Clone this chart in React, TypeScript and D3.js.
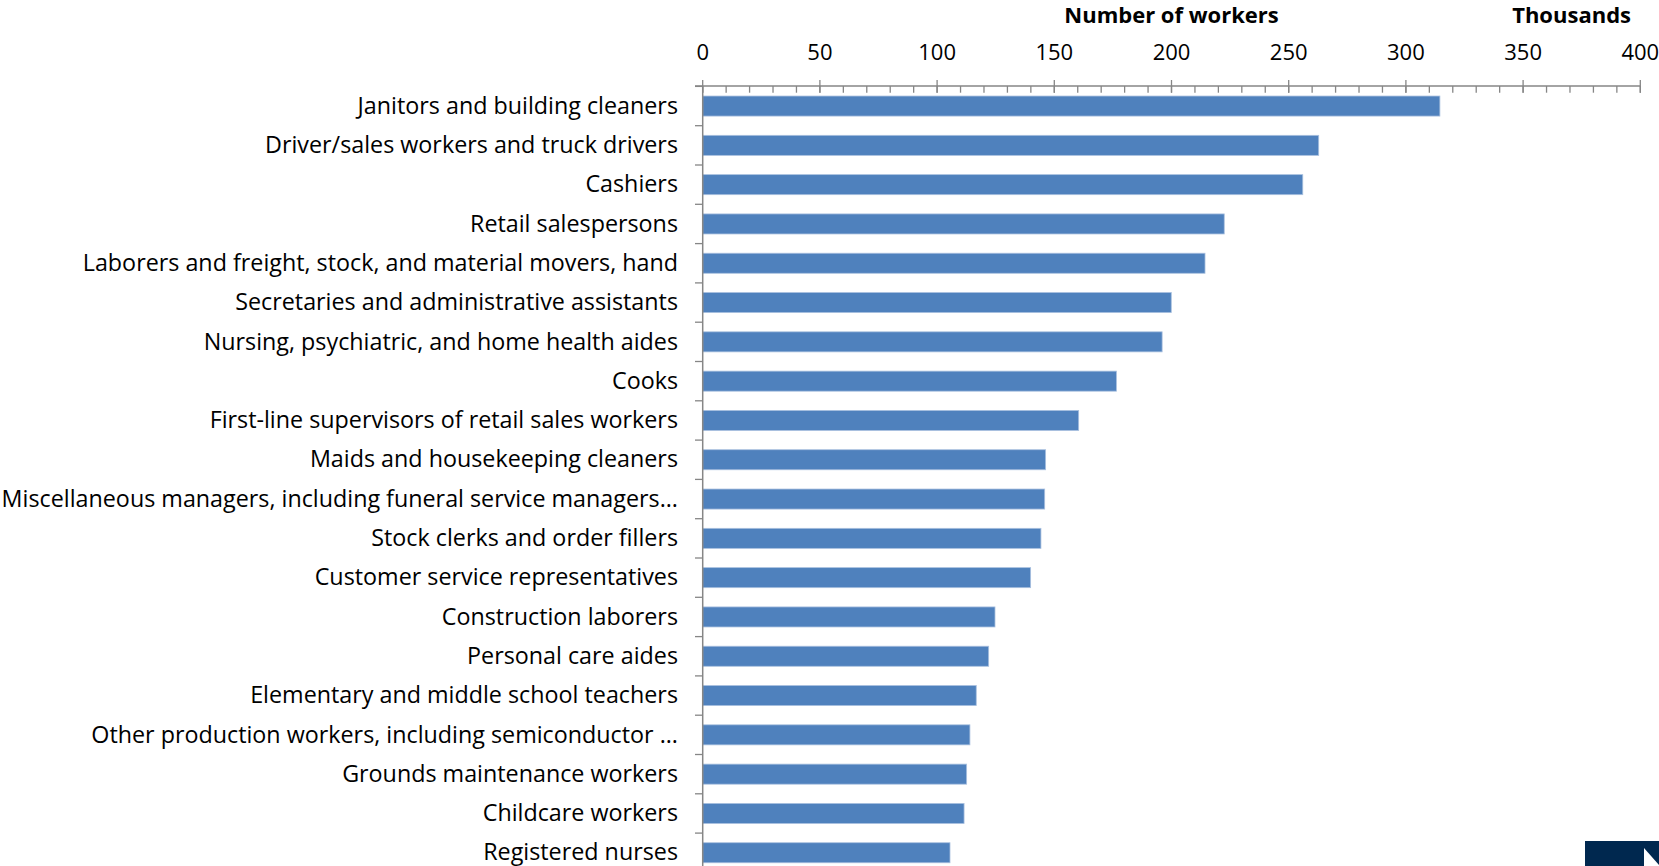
import React from "react";
import * as d3 from "d3";

const categories = [
  "Janitors and building cleaners",
  "Driver/sales workers and truck drivers",
  "Cashiers",
  "Retail salespersons",
  "Laborers and freight, stock, and material movers, hand",
  "Secretaries and administrative assistants",
  "Nursing, psychiatric, and home health aides",
  "Cooks",
  "First-line supervisors of retail sales workers",
  "Maids and housekeeping cleaners",
  "Miscellaneous managers, including funeral service managers...",
  "Stock clerks and order fillers",
  "Customer service representatives",
  "Construction laborers",
  "Personal care aides",
  "Elementary and middle school teachers",
  "Other production workers, including semiconductor ...",
  "Grounds maintenance workers",
  "Childcare workers",
  "Registered nurses",
];

const workers = [
  314.5, 262.8, 256.0, 222.5, 214.3, 199.9, 196.0, 176.5, 160.4, 146.3,
  145.9, 144.3, 139.9, 124.7, 122.0, 116.7, 114.0, 112.6, 111.5, 105.5,
];

const majorTicks = [0, 50, 100, 150, 200, 250, 300, 350, 400];
const minorTicks = d3.range(0, 401, 10);

const axisTitle = "Number of workers";
const unitTitle = "Thousands";

const W = 1659;
const H = 866;
const FONT = "'Open Sans', Lato, sans-serif";
const AXIS = "#868686";
const BAR = "#4F81BD";

export default function App() {
  const x = d3.scaleLinear().domain([0, 400]).range([702.7, 1640.3]);
  const step = 39.3;
  const y0 = 86.4;
  const y = d3
    .scaleBand<string>()
    .domain(categories)
    .range([y0, y0 + step * categories.length])
    .paddingInner(0.49)
    .paddingOuter(0.245);
  const axisY = 86;
  const bandEdges = d3.range(categories.length + 1).map((i) => y0 + i * step);

  return (
    <svg
      width={W}
      height={H}
      style={{ position: "absolute", left: 0, top: 0, background: "#fff" }}
      fontFamily={FONT}
    >
      {/* bars */}
      {categories.map((c, i) => (
        <rect
          key={c}
          x={x(0)}
          y={y(c)!}
          width={x(workers[i]) - x(0)}
          height={y.bandwidth()}
          fill={BAR}
          stroke="#a9c0df"
          strokeWidth={0.8}
        />
      ))}

      {/* top value axis */}
      <line x1={695} x2={x(400)} y1={axisY} y2={axisY} stroke={AXIS} strokeWidth={1.5} />
      {minorTicks.map((t) => (
        <line key={"m" + t} x1={x(t)} x2={x(t)} y1={axisY} y2={axisY + 6.7} stroke={AXIS} strokeWidth={1.3} />
      ))}
      {majorTicks.map((t) => (
        <line key={"M" + t} x1={x(t)} x2={x(t)} y1={axisY - 6} y2={axisY + 6.7} stroke={AXIS} strokeWidth={1.3} />
      ))}
      {majorTicks.map((t) => (
        <text key={"l" + t} x={x(t)} y={60} textAnchor="middle" fontSize={22} fill="#000">
          {t}
        </text>
      ))}
      <text x={x(200)} y={23} textAnchor="middle" fontSize={22} fontWeight="bold" fill="#000">
        {axisTitle}
      </text>
      <text x={1631} y={23} textAnchor="end" fontSize={22} fontWeight="bold" fill="#000">
        {unitTitle}
      </text>

      {/* category axis */}
      <line x1={x(0)} x2={x(0)} y1={axisY} y2={H} stroke={AXIS} strokeWidth={1.5} />
      {bandEdges.map((e, i) => (
        <line key={"c" + i} x1={695} x2={x(0)} y1={e} y2={e} stroke={AXIS} strokeWidth={1.3} />
      ))}
      {categories.map((c) => (
        <text
          key={"t" + c}
          x={678}
          y={y(c)! + y.bandwidth() / 2}
          dy="0.33em"
          textAnchor="end"
          fontSize={23.3}
          fill="#000"
        >
          {c}
        </text>
      ))}

      {/* corner logo fragment */}
      <rect x={1585} y={841} width={W - 1585} height={H - 841} fill="#00284f" />
      <polygon points="1644,848 1660,866 1644,866" fill="#ffffff" />
    </svg>
  );
}
